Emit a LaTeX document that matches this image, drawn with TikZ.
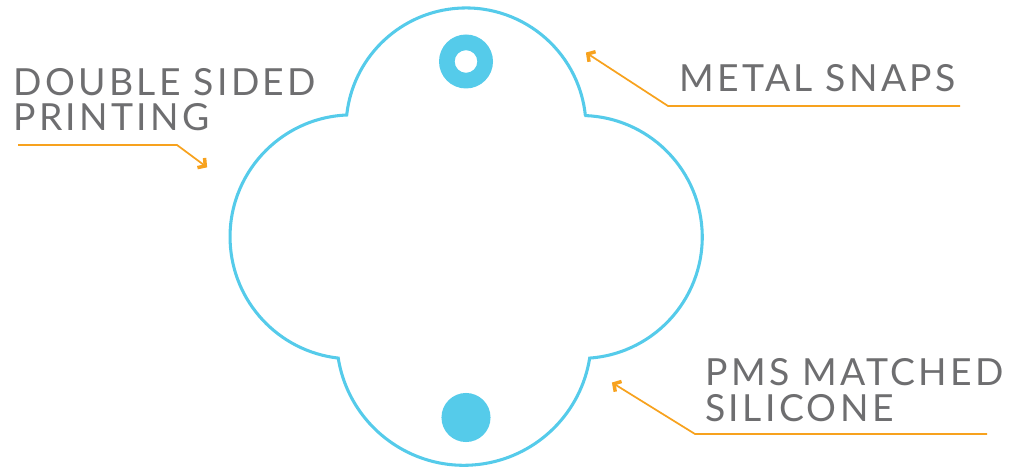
\documentclass[tikz,border=0pt]{standalone}
\usepackage{fontspec}
\setmainfont{Lato}
\usetikzlibrary{arrows.meta}
\definecolor{sky}{RGB}{85,203,234}
\definecolor{lead}{RGB}{247,162,30}
\definecolor{txt}{RGB}{110,110,112}
\newfontfamily\labfont[LetterSpace=9]{Lato}
\tikzset{
  outline/.style={draw=sky, line width=2.3pt},
  leader/.style={draw=lead, line width=1.3pt, -{Straight Barb[length=4pt,width=9pt,line width=2.6pt,sep=0.8pt]}},
  lab/.style={text=txt, inner sep=0pt, align=left, font=\labfont\fontsize{28}{26.5}\selectfont},
}
\begin{document}
\begin{tikzpicture}[x=0.75pt,y=0.75pt]
\useasboundingbox (0,0) rectangle (1009,468);
% outline (y up = 468 - pixel y)
\draw[outline] (585.3,353.0)
  arc[start angle=6.2, end angle=173.8, radius=90pt]
  arc[start angle=92.5, end angle=263.5, radius=91.5pt]
  arc[start angle=189.1, end angle=350.9, radius=95.5pt]
  arc[start angle=-85.8, end angle=87.7, radius=91.1pt] -- cycle;
% snaps
\fill[sky, even odd rule] (466,406.5) circle[radius=20.25pt] (466,406.5) circle[radius=8.5pt];
\coordinate (topsnap) at (466,406.5);
\fill[sky] (466,50.5) circle[radius=18.4pt];
\coordinate (botsnap) at (466,50.5);
% labels
\node[lab, anchor=base west] (dbl) at (13,337) {DOUBLE SIDED\\PRINTING};
\node[lab, anchor=base west] (met) at (679,376) {METAL SNAPS};
\node[lab, anchor=base west] (pms) at (705,47) {PMS MATCHED\\SILICONE};
% leaders
\coordinate (d0) at (18,323);
\coordinate (d1) at (177,323);
\coordinate (d2) at (208,300);
\draw[leader] (d0) -- (d1) -- (d2);
\coordinate (m0) at (960,362);
\coordinate (m1) at (668,362);
\coordinate (m2) at (585,416);
\draw[leader] (m0) -- (m1) -- (m2);
\coordinate (p0) at (987,34);
\coordinate (p1) at (695,34);
\coordinate (p2) at (611,86);
\draw[leader] (p0) -- (p1) -- (p2);
\end{tikzpicture}
\end{document}
